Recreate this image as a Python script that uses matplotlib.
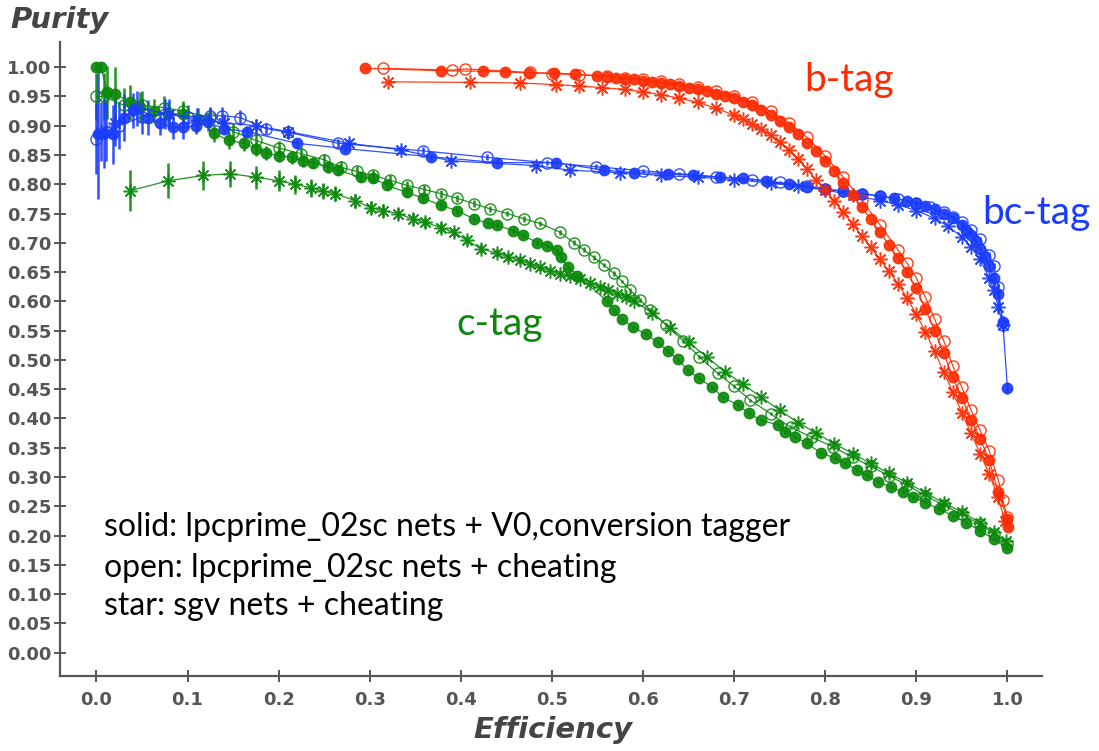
import matplotlib
matplotlib.use("Agg")
import matplotlib.pyplot as plt
import numpy as np

# ---------------- data ----------------
# b-tag
b_solid_x = [0.295, 0.378, 0.424, 0.448, 0.475, 0.502, 0.525, 0.55, 0.56, 0.57, 0.58, 0.59, 0.60, 0.61, 0.62, 0.63,
             0.64, 0.65, 0.66, 0.67, 0.68, 0.69, 0.70, 0.71, 0.72, 0.73, 0.74, 0.75, 0.76, 0.77, 0.78, 0.79, 0.80,
             0.81, 0.82, 0.83, 0.84, 0.85, 0.86, 0.87, 0.88, 0.89, 0.90, 0.91, 0.92, 0.93, 0.94, 0.95, 0.96, 0.97,
             0.98, 0.99, 1.0, 1.001]
b_solid_y = [0.998, 0.994, 0.993, 0.992, 0.99, 0.99, 0.988, 0.985, 0.984, 0.982, 0.98, 0.979, 0.977, 0.975, 0.973,
             0.971, 0.968, 0.965, 0.962, 0.959, 0.955, 0.951, 0.947, 0.941, 0.935, 0.927, 0.918, 0.908, 0.897, 0.885,
             0.871, 0.857, 0.84, 0.822, 0.802, 0.782, 0.761, 0.74, 0.718, 0.696, 0.674, 0.65, 0.622, 0.587, 0.55,
             0.512, 0.47, 0.435, 0.398, 0.365, 0.329, 0.274, 0.228, 0.215]
b_open_x = [0.315, 0.39, 0.405, 0.476, 0.5, 0.53, 0.56, 0.58, 0.6, 0.62, 0.64, 0.66, 0.68, 0.70, 0.72, 0.74, 0.76,
            0.78, 0.80, 0.82, 0.84, 0.86, 0.88, 0.89, 0.90, 0.91, 0.92, 0.93, 0.94, 0.95, 0.96, 0.97, 0.98, 0.99,
            0.995, 1.0]
b_open_y = [0.998, 0.995, 0.997, 0.991, 0.989, 0.987, 0.985, 0.982, 0.979, 0.976, 0.972, 0.966, 0.959, 0.951, 0.94,
            0.925, 0.905, 0.88, 0.848, 0.812, 0.773, 0.731, 0.688, 0.665, 0.64, 0.607, 0.57, 0.533, 0.49, 0.453,
            0.415, 0.38, 0.345, 0.295, 0.26, 0.232]
b_star_x = [0.32, 0.41, 0.465, 0.505, 0.53, 0.555, 0.58, 0.6, 0.62, 0.64, 0.66, 0.68, 0.7, 0.71, 0.72, 0.73, 0.74,
            0.75, 0.76, 0.77, 0.78, 0.79, 0.8, 0.81, 0.82, 0.83, 0.84, 0.85, 0.86, 0.87, 0.88, 0.89, 0.9, 0.91,
            0.92, 0.93, 0.94, 0.95, 0.96, 0.97, 0.98, 0.99, 0.997]
b_star_y = [0.975, 0.974, 0.973, 0.97, 0.968, 0.965, 0.962, 0.958, 0.953, 0.947, 0.94, 0.93, 0.918, 0.911, 0.903,
            0.894, 0.884, 0.872, 0.858, 0.843, 0.826, 0.808, 0.79, 0.771, 0.752, 0.732, 0.712, 0.692, 0.672, 0.651,
            0.63, 0.605, 0.578, 0.548, 0.515, 0.48, 0.445, 0.41, 0.375, 0.34, 0.305, 0.265, 0.225]

# bc-tag
bc_solid_x = [0.002, 0.008, 0.018, 0.03, 0.04, 0.057, 0.07, 0.084, 0.095, 0.109, 0.122, 0.14, 0.165, 0.22, 0.273,
              0.367, 0.44, 0.504, 0.557, 0.59, 0.627, 0.655, 0.685, 0.71, 0.735, 0.76, 0.78, 0.8, 0.82, 0.84, 0.86,
              0.875, 0.89, 0.9, 0.91, 0.92, 0.93, 0.94, 0.95, 0.955, 0.96, 0.965, 0.97, 0.975, 0.98, 0.985, 0.99,
              0.995, 1.0]
bc_solid_y = [0.885, 0.888, 0.885, 0.914, 0.926, 0.914, 0.904, 0.897, 0.897, 0.90, 0.906, 0.895, 0.89, 0.87, 0.861,
              0.847, 0.837, 0.837, 0.824, 0.82, 0.818, 0.815, 0.812, 0.81, 0.806, 0.8, 0.796, 0.792, 0.788, 0.784,
              0.78, 0.776, 0.771, 0.768, 0.763, 0.757, 0.75, 0.742, 0.73, 0.722, 0.713, 0.703, 0.69, 0.676, 0.66,
              0.64, 0.612, 0.565, 0.452]
bc_solid_err = [0.11, 0.06, 0.05, 0.04, 0.03, 0.03, 0.02, 0.02, 0.02, 0.015, 0.015, 0.01, 0.01, 0.008, 0.006,
                0.005, 0.004, 0.004, 0.004, 0.003, 0.003, 0.003, 0.003, 0.003, 0.003, 0.003, 0.003, 0.003, 0.003,
                0.003, 0.003, 0.003, 0.003, 0.003, 0.003, 0.003, 0.003, 0.003, 0.003, 0.003, 0.003, 0.003, 0.003,
                0.004, 0.004, 0.005, 0.006, 0.01, 0.01]
bc_open_x = [0.0, 0.01, 0.025, 0.05, 0.075, 0.1, 0.125, 0.138, 0.158, 0.186, 0.21, 0.265, 0.359, 0.429, 0.495, 0.548,
             0.6, 0.64, 0.68, 0.72, 0.75, 0.78, 0.8, 0.82, 0.84, 0.86, 0.88, 0.9, 0.915, 0.93, 0.94, 0.95, 0.96,
             0.97, 0.98, 0.985, 0.99, 0.995]
bc_open_y = [0.878, 0.89, 0.9, 0.915, 0.92, 0.915, 0.917, 0.917, 0.914, 0.895, 0.889, 0.87, 0.857, 0.846, 0.837, 0.83,
             0.823, 0.818, 0.813, 0.808, 0.803, 0.797, 0.792, 0.788, 0.784, 0.78, 0.775, 0.768, 0.762, 0.752, 0.744,
             0.735, 0.722, 0.706, 0.68, 0.66, 0.625, 0.559]
bc_open_err = [0.06, 0.05, 0.04, 0.03, 0.025, 0.02, 0.015, 0.015, 0.012, 0.01, 0.01, 0.008, 0.006, 0.005, 0.004,
               0.004, 0.003, 0.003, 0.003, 0.003, 0.003, 0.003, 0.003, 0.003, 0.003, 0.003, 0.003, 0.003, 0.003,
               0.003, 0.003, 0.003, 0.003, 0.004, 0.004, 0.005, 0.006, 0.01]
bc_star_x = [0.005, 0.02, 0.045, 0.08, 0.11, 0.14, 0.175, 0.21, 0.277, 0.334, 0.389, 0.482, 0.52, 0.575, 0.62, 0.66,
             0.7, 0.74, 0.77, 0.8, 0.83, 0.86, 0.88, 0.9, 0.92, 0.935, 0.95, 0.96, 0.97, 0.98, 0.985, 0.99, 0.995]
bc_star_y = [0.89, 0.905, 0.93, 0.92, 0.91, 0.905, 0.9, 0.89, 0.87, 0.859, 0.84, 0.832, 0.824, 0.82, 0.815, 0.812,
             0.808, 0.802, 0.797, 0.79, 0.782, 0.772, 0.765, 0.755, 0.742, 0.728, 0.71, 0.693, 0.672, 0.64, 0.62,
             0.59, 0.56]
bc_star_err = [0.05, 0.04, 0.03, 0.025, 0.02, 0.015, 0.012, 0.01, 0.008, 0.006, 0.005, 0.004, 0.004, 0.003, 0.003,
               0.003, 0.003, 0.003, 0.003, 0.003, 0.003, 0.003, 0.003, 0.003, 0.003, 0.003, 0.004, 0.004, 0.005,
               0.005, 0.006, 0.008, 0.01]

# c-tag
c_solid_x = [0.0, 0.005, 0.012, 0.02, 0.037, 0.048, 0.063, 0.079, 0.095, 0.112, 0.129, 0.145, 0.162, 0.175, 0.186,
             0.2, 0.215, 0.227, 0.238, 0.254, 0.265, 0.29, 0.304, 0.319, 0.341, 0.359, 0.378, 0.396, 0.414, 0.43,
             0.44, 0.457, 0.468, 0.484, 0.495, 0.506, 0.51, 0.518, 0.528, 0.561, 0.568, 0.577, 0.589, 0.603, 0.616,
             0.627, 0.638, 0.649, 0.661, 0.676, 0.688, 0.704, 0.716, 0.729, 0.748, 0.756, 0.767, 0.78, 0.795,
             0.811, 0.822, 0.835, 0.846, 0.858, 0.872, 0.885, 0.896, 0.91, 0.925, 0.94, 0.955, 0.97, 0.985, 1.0]
c_solid_y = [1.0, 1.0, 0.957, 0.955, 0.94, 0.932, 0.925, 0.92, 0.92, 0.912, 0.887, 0.875, 0.87, 0.861, 0.853,
             0.849, 0.846, 0.84, 0.837, 0.829, 0.824, 0.812, 0.81, 0.798, 0.786, 0.776, 0.764, 0.755, 0.741, 0.733,
             0.73, 0.721, 0.713, 0.70, 0.695, 0.687, 0.675, 0.658, 0.644, 0.60, 0.585, 0.569, 0.556, 0.544, 0.53,
             0.515, 0.501, 0.483, 0.469, 0.453, 0.436, 0.423, 0.409, 0.397, 0.389, 0.377, 0.368, 0.358, 0.341,
             0.332, 0.323, 0.312, 0.303, 0.291, 0.283, 0.274, 0.266, 0.256, 0.245, 0.234, 0.222, 0.208, 0.194, 0.178]
c_solid_err = [0.005, 0.005, 0.045, 0.045, 0.03, 0.025, 0.02, 0.02, 0.018, 0.018, 0.015, 0.014, 0.013, 0.012, 0.012,
               0.011, 0.011, 0.01, 0.01, 0.009, 0.009, 0.008, 0.008, 0.007, 0.007, 0.006, 0.006, 0.005, 0.005, 0.005,
               0.005, 0.004, 0.004, 0.004, 0.004, 0.004, 0.004, 0.004, 0.004, 0.003, 0.003, 0.003, 0.003, 0.003,
               0.003, 0.003, 0.003, 0.003, 0.003, 0.003, 0.003, 0.003, 0.003, 0.003, 0.003, 0.003, 0.003, 0.003,
               0.003, 0.003, 0.003, 0.003, 0.003, 0.003, 0.003, 0.003, 0.003, 0.003, 0.003, 0.003, 0.003, 0.003,
               0.003, 0.003]
c_open_x = [0.0, 0.008, 0.03, 0.05, 0.074, 0.095, 0.125, 0.15, 0.175, 0.2, 0.225, 0.25, 0.268, 0.286, 0.304, 0.322,
            0.341, 0.36, 0.378, 0.396, 0.414, 0.432, 0.451, 0.469, 0.487, 0.509, 0.524, 0.535, 0.546, 0.557, 0.568,
            0.577, 0.586, 0.597, 0.608, 0.625, 0.644, 0.662, 0.682, 0.7, 0.718, 0.74, 0.762, 0.785, 0.809, 0.83,
            0.85, 0.87, 0.89, 0.91, 0.93, 0.95, 0.97, 0.985, 1.0]
c_open_y = [0.95, 0.95, 0.935, 0.935, 0.931, 0.925, 0.914, 0.89, 0.875, 0.862, 0.852, 0.842, 0.829, 0.822, 0.815,
            0.807, 0.798, 0.791, 0.784, 0.776, 0.767, 0.758, 0.75, 0.741, 0.733, 0.718, 0.70, 0.688, 0.675, 0.662,
            0.648, 0.634, 0.619, 0.602, 0.585, 0.56, 0.533, 0.505, 0.477, 0.455, 0.431, 0.408, 0.385, 0.368, 0.351,
            0.334, 0.318, 0.302, 0.286, 0.268, 0.252, 0.236, 0.219, 0.203, 0.185]
c_open_err = [0.04, 0.04, 0.03, 0.025, 0.02, 0.018, 0.016, 0.014, 0.013, 0.012, 0.011, 0.01, 0.01, 0.009, 0.009,
              0.008, 0.008, 0.007, 0.007, 0.006, 0.006, 0.005, 0.005, 0.005, 0.005, 0.004, 0.004, 0.004, 0.004,
              0.004, 0.004, 0.003, 0.003, 0.003, 0.003, 0.003, 0.003, 0.003, 0.003, 0.003, 0.003, 0.003, 0.003,
              0.003, 0.003, 0.003, 0.003, 0.003, 0.003, 0.003, 0.003, 0.003, 0.003, 0.003, 0.003]
c_star_x = [0.037, 0.079, 0.117, 0.147, 0.175, 0.2, 0.218, 0.235, 0.249, 0.262, 0.284, 0.301, 0.315, 0.331, 0.347,
            0.361, 0.378, 0.392, 0.407, 0.422, 0.44, 0.452, 0.465, 0.476, 0.487, 0.498, 0.509, 0.52, 0.531, 0.542,
            0.553, 0.562, 0.572, 0.581, 0.59, 0.61, 0.63, 0.65, 0.67, 0.69, 0.71, 0.73, 0.75, 0.77, 0.79, 0.81,
            0.83, 0.85, 0.87, 0.89, 0.91, 0.93, 0.95, 0.97, 0.985, 0.998]
c_star_y = [0.789, 0.806, 0.815, 0.818, 0.812, 0.806, 0.80, 0.794, 0.788, 0.784, 0.772, 0.76, 0.755, 0.75, 0.741,
            0.735, 0.726, 0.718, 0.704, 0.69, 0.682, 0.676, 0.67, 0.664, 0.658, 0.652, 0.647, 0.643, 0.639, 0.632,
            0.624, 0.619, 0.613, 0.607, 0.601, 0.58, 0.555, 0.53, 0.505, 0.48, 0.458, 0.436, 0.414, 0.393, 0.375,
            0.357, 0.34, 0.323, 0.306, 0.29, 0.273, 0.256, 0.24, 0.222, 0.206, 0.19]
c_star_err = [0.035, 0.03, 0.025, 0.022, 0.02, 0.018, 0.016, 0.015, 0.014, 0.013, 0.012, 0.011, 0.011, 0.01, 0.01,
              0.009, 0.009, 0.008, 0.008, 0.008, 0.007, 0.007, 0.007, 0.006, 0.006, 0.006, 0.006, 0.005, 0.005,
              0.005, 0.005, 0.005, 0.005, 0.005, 0.004, 0.004, 0.004, 0.004, 0.004, 0.004, 0.004, 0.004, 0.004,
              0.004, 0.004, 0.004, 0.004, 0.004, 0.004, 0.004, 0.004, 0.004, 0.004, 0.004, 0.004, 0.004]

tag_labels = ["b-tag", "bc-tag", "c-tag"]
note_lines = ["solid: lpcprime_02sc nets + V0,conversion tagger",
              "open: lpcprime_02sc nets + cheating",
              "star: sgv nets + cheating"]
x_ticks = [0.0, 0.1, 0.2, 0.3, 0.4, 0.5, 0.6, 0.7, 0.8, 0.9, 1.0]
y_ticks = [0.00, 0.05, 0.10, 0.15, 0.20, 0.25, 0.30, 0.35, 0.40, 0.45, 0.50, 0.55, 0.60, 0.65, 0.70, 0.75, 0.80,
           0.85, 0.90, 0.95, 1.00]

# ---------------- style ----------------
RED = "#ff2a00"
BLUE = "#1a3cff"
GREEN = "#0a880a"
AX = "#555555"

W, H = 1099, 751
fig = plt.figure(figsize=(W / 100, H / 100), dpi=100)
ax = fig.add_axes([60 / W, 1 - 676 / H, (1042 - 60) / W, (676 - 42) / H])
ax.set_xlim(-0.04, 1.038)
ax.set_ylim(-0.040, 1.043)

asterisk = (8, 2, 0)


def draw(x, y, err, color, kind):
    x = np.asarray(x)
    y = np.asarray(y)
    if err is None:
        err = np.zeros_like(y)
    if kind == "solid":
        mk = dict(marker="o", ms=7.5, mfc=color, mec=color, mew=1.0)
    elif kind == "open":
        mk = dict(marker="o", ms=8, mfc="none", mec=color, mew=1.0)
    else:
        mk = dict(marker=asterisk, ms=10, mfc=color, mec=color, mew=1.1)
    ax.errorbar(x, y, yerr=err, color=color, lw=0.9, elinewidth=1.8, capsize=0, alpha=0.9, **mk)


draw(c_star_x, c_star_y, c_star_err, GREEN, "star")
draw(c_open_x, c_open_y, c_open_err, GREEN, "open")
draw(c_solid_x, c_solid_y, c_solid_err, GREEN, "solid")
draw(bc_star_x, bc_star_y, bc_star_err, BLUE, "star")
draw(bc_open_x, bc_open_y, bc_open_err, BLUE, "open")
draw(bc_solid_x, bc_solid_y, bc_solid_err, BLUE, "solid")
draw(b_star_x, b_star_y, None, RED, "star")
draw(b_open_x, b_open_y, None, RED, "open")
draw(b_solid_x, b_solid_y, None, RED, "solid")

for s in ["top", "right"]:
    ax.spines[s].set_visible(False)
for s in ["left", "bottom"]:
    ax.spines[s].set_color(AX)
    ax.spines[s].set_linewidth(1.6)

ax.set_xticks(x_ticks)
ax.set_xticklabels([f"{v:.1f}" for v in x_ticks])
ax.set_yticks(y_ticks)
ax.set_yticklabels([f"{v:.2f}" for v in y_ticks])
ax.tick_params(direction="inout", length=8, width=1.4, color=AX, labelcolor=AX, labelsize=13)
ax.tick_params(axis="x", pad=7)
ax.tick_params(axis="y", pad=2)
for lab in ax.get_xticklabels() + ax.get_yticklabels():
    lab.set_fontweight("bold")

fig.text(10 / W, 1 - 20 / H, "Purity", fontsize=21, fontweight="bold", fontstyle="italic",
         color="#444444", ha="left", va="center")
fig.text(553 / W, 1 - 730 / H, "Efficiency", fontsize=21, fontweight="bold", fontstyle="italic",
         color="#444444", ha="center", va="center")

lab_font = ["Lato", "DejaVu Sans"]
fig.text(804 / W, 1 - 80 / H, tag_labels[0], fontsize=28, color=RED, family=lab_font, ha="left", va="center")
fig.text(982 / W, 1 - 213 / H, tag_labels[1], fontsize=28, color=BLUE, family=lab_font, ha="left", va="center")
fig.text(456 / W, 1 - 324 / H, tag_labels[2], fontsize=28, color=GREEN, family=lab_font, ha="left", va="center")

for i, (line, yy) in enumerate(zip(note_lines, [527, 568, 606])):
    fig.text(104 / W, 1 - yy / H, line, fontsize=23, color="black", family=lab_font, ha="left", va="center")

fig.savefig("out.png", dpi=100)
